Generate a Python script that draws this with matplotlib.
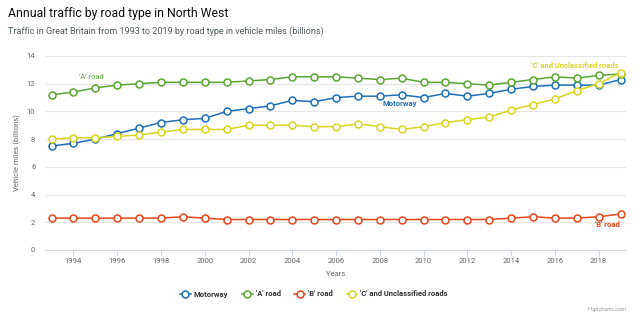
import numpy as np
import matplotlib
matplotlib.use("Agg")
from matplotlib import pyplot as plt

years = list(range(1993, 2020))

motorway = [7.5, 7.7, 8.0, 8.4, 8.8, 9.2, 9.4, 9.5, 10.0, 10.2, 10.4, 10.8, 10.7,
            11.0, 11.1, 11.1, 11.2, 11.0, 11.3, 11.1, 11.3, 11.6, 11.8, 11.9, 11.9,
            11.9, 12.3]
a_road = [11.2, 11.4, 11.7, 11.9, 12.0, 12.1, 12.1, 12.1, 12.1, 12.2, 12.3, 12.5, 12.5,
          12.5, 12.4, 12.3, 12.4, 12.1, 12.1, 12.0, 11.9, 12.1, 12.3, 12.5, 12.4,
          12.6, 12.7]
b_road = [2.3, 2.3, 2.3, 2.3, 2.3, 2.3, 2.4, 2.3, 2.2, 2.2, 2.2, 2.2, 2.2,
          2.2, 2.2, 2.2, 2.2, 2.2, 2.2, 2.2, 2.2, 2.3, 2.4, 2.3, 2.3,
          2.4, 2.6]
c_road = [8.0, 8.1, 8.1, 8.2, 8.3, 8.5, 8.7, 8.7, 8.7, 9.0, 9.0, 9.0, 8.9,
          8.9, 9.1, 8.9, 8.7, 8.9, 9.2, 9.4, 9.6, 10.1, 10.5, 10.9, 11.5,
          12.0, 12.8]

series_names = ["Motorway", "'A' road", "'B' road", "'C' and Unclassified roads"]
colors = ["#1d70b8", "#5ba632", "#e5461c", "#d8d51e"]

plt.rcParams['font.family'] = ['Roboto', 'DejaVu Sans']

fig = plt.figure(figsize=(6.4, 3.24), dpi=100)
ax = fig.add_axes([45 / 640, 1 - 250 / 324, 581 / 640, 194 / 324])

for vals, name, col in zip([motorway, a_road, b_road, c_road], series_names, colors):
    ax.plot(years, vals, color=col, lw=1.1, marker="o", ms=5,
            mfc="white", mec=col, mew=1.1, label=name, zorder=3)

ax.set_xlim(1992.7, 2019.25)
ax.set_ylim(0, 14)
ax.set_yticks(np.arange(0, 15, 2))
ax.set_xticks(np.arange(1994, 2019, 2))
ax.grid(axis="y", color="#e6e6e6", lw=0.8)
ax.set_axisbelow(True)
for side in ["top", "right", "left"]:
    ax.spines[side].set_visible(False)
ax.spines["bottom"].set_color("#ccd6eb")
ax.tick_params(axis="y", length=0, labelsize=5.5, labelcolor="#666666", pad=7)
ax.tick_params(axis="x", length=4, color="#ccd6eb", labelsize=5.5,
               labelcolor="#666666", pad=2)
ax.set_ylabel("Vehicle miles (billions)", fontsize=5.5, color="#666666", labelpad=4)
ax.set_xlabel("Years", fontsize=5.5, color="#666666", labelpad=5)

# series labels placed next to the lines
ax.text(1994.8, 12.45, "'A' road", color=colors[1], fontsize=5.5, ha="center", va="center")
ax.text(2008.9, 10.55, "Motorway", color=colors[0], fontsize=5.5, ha="center",
        va="center", fontweight="bold")
ax.text(2016.9, 13.3, "'C' and Unclassified roads", color=colors[3], fontsize=5.5,
        ha="center", va="center", fontweight="bold")
ax.text(2018.4, 1.85, "'B' road", color=colors[2], fontsize=5.5, ha="center",
        va="center", fontweight="bold")

fig.text(8 / 640, 1 - 13 / 324, "Annual traffic by road type in North West",
         fontsize=8.8, color="#0b0c0c", va="center")
fig.text(8 / 640, 1 - 31 / 324,
         "Traffic in Great Britain from 1993 to 2019 by road type in vehicle miles (billions)",
         fontsize=6.5, color="#505a5f", va="center")

leg = fig.legend(loc="center", bbox_to_anchor=(314 / 640, 1 - 294 / 324), ncol=4,
                 frameon=False, fontsize=5.5, handlelength=1.4, columnspacing=1.8,
                 handletextpad=0.4)
for t in leg.get_texts():
    t.set_fontweight("bold")
    t.set_color("#333333")

fig.text(626 / 640, 1 - 309 / 324, "Highcharts.com", fontsize=4, color="#999999",
         ha="right", va="center")

fig.savefig("out.png", dpi=100)
